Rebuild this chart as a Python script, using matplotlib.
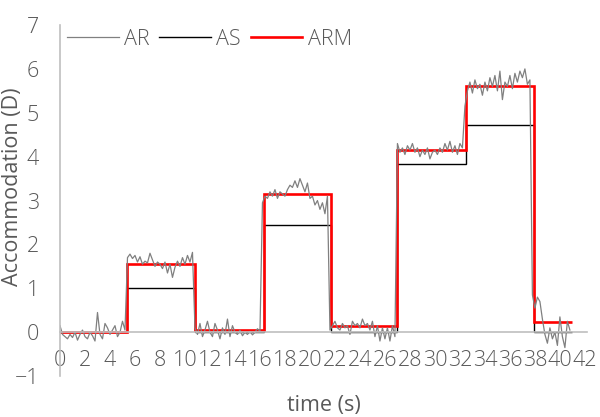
import matplotlib
matplotlib.use('Agg')
import matplotlib.pyplot as plt
import numpy as np

plt.rcParams['font.family'] = ['Open Sans', 'DejaVu Sans']
plt.rcParams['font.weight'] = 'light'

# measured accommodation response (AR), sampled every 0.2 s, one list per stimulus period
ar_seg1 = [0.15, -0.05, -0.1, -0.15, -0.05, -0.12, 0.0, -0.18, -0.05, 0.05, -0.1, -0.15, 0.0, -0.08,
           -0.2, 0.45, -0.05, -0.15, 0.2, 0.1, -0.05, 0.05, 0.15, -0.1, 0.0, 0.25, 0.05]
ar_seg2 = [1.7, 1.78, 1.68, 1.75, 1.6, 1.72, 1.55, 1.62, 1.58, 1.8, 1.65, 1.5, 1.6, 1.55,
           1.45, 1.6, 1.35, 1.55, 1.25, 1.48, 1.62, 1.5, 1.7, 1.55, 1.75, 1.6, 1.82]
ar_seg3 = [0.1, -0.05, 0.2, -0.1, 0.05, 0.25, 0.0, -0.1, 0.2, 0.05, -0.15, 0.1, -0.05, 0.3,
           -0.1, 0.15, 0.0, -0.05, 0.05, -0.08, 0.0, -0.05, 0.02, -0.06, 0.0, 0.08, 0.02]
ar_seg4 = [2.95, 3.1, 3.05, 3.2, 3.1, 3.25, 3.05, 3.2, 3.15, 3.1, 3.25, 3.35, 3.3, 3.45,
           3.3, 3.5, 3.35, 3.2, 3.4, 3.05, 3.1, 2.9, 3.0, 2.8, 2.95, 2.7, 3.1]
ar_seg5 = [0.05, 0.15, 0.25, 0.1, 0.05, 0.2, 0.1, 0.15, -0.05, 0.25, 0.15, 0.2, 0.1, 0.3,
           0.15, 0.2, 0.05, 0.25, -0.1, 0.15, -0.2, 0.1, -0.15, 0.1, -0.2, 0.15, -0.1]
ar_seg6 = [4.3, 4.1, 4.2, 4.05, 4.25, 4.15, 4.3, 4.1, 4.2, 4.0, 4.15, 4.05, 4.2, 3.95,
           4.1, 4.15, 4.05, 4.2, 4.1, 4.3, 4.15, 4.35, 4.1, 4.25, 4.05, 4.3, 4.2]
ar_seg7 = [5.15, 5.5, 5.7, 5.45, 5.75, 5.55, 5.65, 5.4, 5.7, 5.5, 5.8, 5.6, 5.85, 5.5,
           5.95, 5.3, 5.7, 5.6, 5.85, 5.55, 5.9, 5.7, 5.95, 5.8, 6.0, 5.65, 5.75]
ar_seg8 = [0.85, 0.55, 0.8, 0.7, 0.3, -0.05, -0.25, 0.1, -0.15, 0.0, -0.3, 0.35, -0.1, -0.35,
           0.25, 0.05]
ar_dt = 0.2

# stimulus (AS) and mean response (ARM) per period
step_t = [0, 5.4, 10.8, 16.3, 21.7, 27.0, 32.5, 37.9, 41.0]
as_level = [0, 1.0, 0, 2.44, 0, 3.83, 4.72, 0]
arm_level = [0.0, 1.55, 0.05, 3.15, 0.14, 4.15, 5.62, 0.23]

ar = ar_seg1 + ar_seg2 + ar_seg3 + ar_seg4 + ar_seg5 + ar_seg6 + ar_seg7 + ar_seg8
ar_t = np.arange(len(ar)) * ar_dt

txt = '#595959'
fs = 15.5
fig = plt.figure(figsize=(6, 4.17), dpi=100)
ax = fig.add_axes([0.1, 0.098, 0.879, 0.842])

ax.plot(ar_t, ar, color='#808080', lw=0.9, label='AR')
ax.stairs(as_level, step_t, baseline=None, color='black', lw=1.0, label='AS')
ax.stairs(arm_level, step_t, baseline=None, color='#ff0000', lw=1.9, label='ARM')

ax.set_xlim(0, 42.2)
ax.set_ylim(-1, 7)
ax.set_xticks(range(0, 43, 2))
ax.set_yticks(range(-1, 8))

for s in ['top', 'right']:
    ax.spines[s].set_visible(False)
ax.spines['bottom'].set_position(('data', 0))
ax.spines['bottom'].set_color('#bfbfbf')
ax.spines['left'].set_color('#bfbfbf')
ax.spines['bottom'].set_linewidth(1.2)
ax.spines['left'].set_linewidth(1.2)
ax.tick_params(axis='x', length=0, pad=12.5, labelsize=fs, labelcolor=txt)
ax.tick_params(axis='y', length=0, pad=15, labelsize=fs, labelcolor=txt)

ax.set_xlabel('time (s)', fontsize=fs, color=txt)
ax.xaxis.set_label_coords(0.5, -0.055)
ax.set_ylabel('Accommodation (D)', fontsize=fs, color=txt)
ax.yaxis.set_label_coords(-0.07, 0.54)

ax.legend(loc='upper left', bbox_to_anchor=(0.013, 0.99), ncol=3, frameon=False,
          fontsize=fs, labelcolor=txt, handlelength=2.4, handletextpad=0.25,
          columnspacing=0.45, borderpad=0, borderaxespad=0)

fig.savefig('out.png', dpi=100)
